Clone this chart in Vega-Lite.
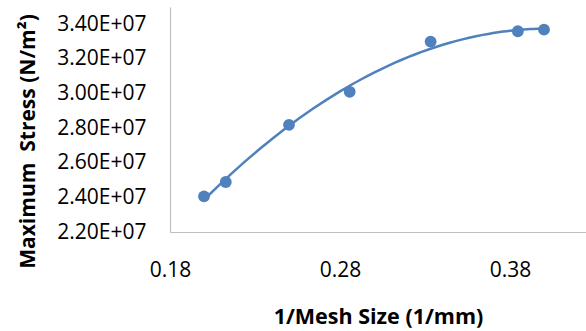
{
  "$schema": "https://vega.github.io/schema/vega-lite/v6.json",
  "autosize": "none",
  "padding": {"left": 170, "top": 7, "right": 0, "bottom": 99},
  "width": 416,
  "height": 225,
  "background": "white",
  "config": {"view": {"stroke": null}, "font": "Open Sans"},
  "data": {"values": [
    {"x": 0.2, "y": 24060000},
    {"x": 0.2128, "y": 24890000},
    {"x": 0.25, "y": 28190000},
    {"x": 0.2857, "y": 30100000},
    {"x": 0.3333, "y": 33000000},
    {"x": 0.3846, "y": 33600000},
    {"x": 0.4, "y": 33690000}
  ]},
  "encoding": {
    "x": {"field": "x", "type": "quantitative",
      "scale": {"domain": [0.18, 0.4247], "nice": false, "zero": false},
      "axis": {"title": "1/Mesh Size (1/mm)", "values": [0.18, 0.28, 0.38], "format": ".2f",
        "grid": false, "ticks": false, "domainColor": "#BFBFBF", "domainWidth": 1.2,
        "labelFont": "Open Sans", "labelFontSize": 21, "labelColor": "#000000", "labelPadding": 27,
        "labelFlush": false,
        "titleFont": "Open Sans", "titleFontSize": 21.5, "titleFontWeight": "bold", "titleColor": "#000000", "titlePadding": 26}},
    "y": {"field": "y", "type": "quantitative",
      "scale": {"domain": [22000000, 35000000], "nice": false, "zero": false},
      "axis": {"title": "Maximum\u00a0 Stress (N/m²)", "values": [22000000, 24000000, 26000000, 28000000, 30000000, 32000000, 34000000],
        "labelExpr": "format(datum.value/1e7, '.2f') + 'E+07'",
        "grid": false, "ticks": false, "domainColor": "#BFBFBF", "domainWidth": 1.2,
        "labelFont": "Open Sans", "labelFontSize": 21, "labelColor": "#000000", "labelPadding": 24,
        "titleFont": "Open Sans", "titleFontSize": 21, "titleFontWeight": "bold", "titleColor": "#000000", "titlePadding": 18,
        "titleY": 134}}
  },
  "layer": [
    {"transform": [{"regression": "y", "on": "x", "method": "poly", "order": 2}],
     "mark": {"type": "line", "color": "#4F81BD", "strokeWidth": 2.5}},
    {"mark": {"type": "circle", "color": "#4F81BD", "size": 140, "opacity": 1}}
  ]
}
